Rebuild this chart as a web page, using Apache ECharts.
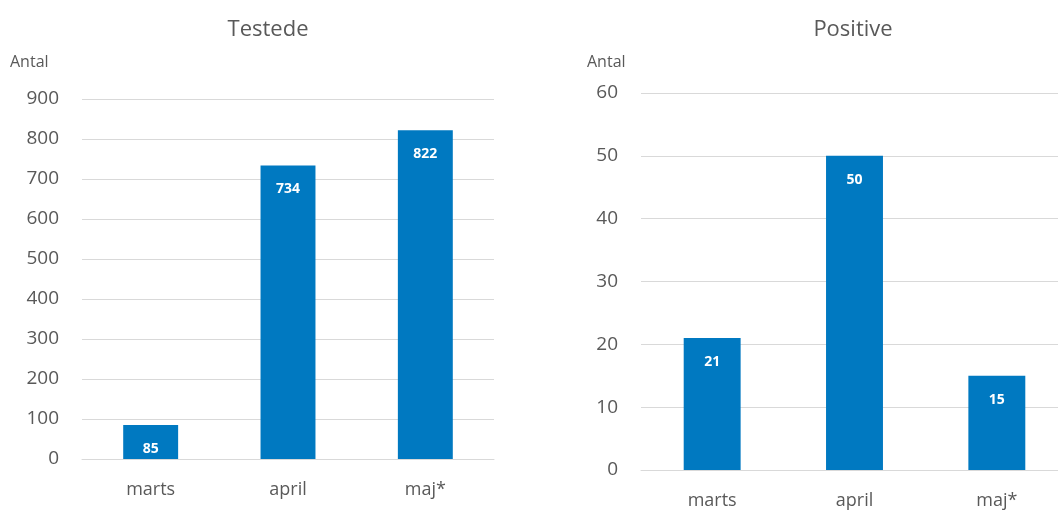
<!DOCTYPE html>
<html><head><meta charset="utf-8">
<script src="https://cdn.jsdelivr.net/npm/echarts@6/dist/echarts.min.js"></script>
<style>html,body{margin:0;padding:0;background:#fff}#c{width:1058px;height:510px}</style>
</head><body><div id="c"></div>
<script>
const categories = ['marts', 'april', 'maj*'];
const testede = [85, 734, 822];
const positive = [21, 50, 15];
const titles = ['Testede', 'Positive'];
const yName = 'Antal';

const font = '"Open Sans", "Noto Sans", sans-serif';
const grey = '#595959';
const blue = '#0079C1';

const chart = echarts.init(document.getElementById('c'), null, {renderer: 'canvas'});
function xAxis(i) {
  return {
    type: 'category', gridIndex: i, data: categories,
    axisTick: {show: false},
    axisLine: {lineStyle: {color: '#d9d9d9', width: 1}},
    axisLabel: {color: grey, fontSize: 18, fontFamily: font, margin: 22}
  };
}
function yAxis(i, max, interval) {
  return {
    type: 'value', gridIndex: i, min: 0, max: max, interval: interval,
    axisLine: {show: false}, axisTick: {show: false},
    splitLine: {lineStyle: {color: '#d9d9d9', width: 1}},
    axisLabel: {color: grey, fontSize: 19, fontFamily: font, margin: 23}
  };
}
function barSeries(i, data) {
  return {
    type: 'bar', xAxisIndex: i, yAxisIndex: i, data: data, barWidth: '40%',
    itemStyle: {color: blue},
    label: {show: true, position: 'insideTop', distance: 17, color: '#fff',
            fontWeight: 'bold', fontSize: 14, fontFamily: font},
    animation: false
  };
}
chart.setOption({
  animation: false,
  title: [
    {text: titles[0], left: 263, top: 14, textAlign: 'center',
     textStyle: {color: grey, fontSize: 22, fontWeight: 'normal', fontFamily: font}},
    {text: titles[1], left: 848, top: 14, textAlign: 'center',
     textStyle: {color: grey, fontSize: 22, fontWeight: 'normal', fontFamily: font}}
  ],
  graphic: [
    {type: 'text', left: 10, top: 54, style: {text: yName, fill: grey, fontSize: 16, fontFamily: font}},
    {type: 'text', left: 587, top: 54, style: {text: yName, fill: grey, fontSize: 16, fontFamily: font}}
  ],
  grid: [
    {left: 82, top: 99, width: 412, height: 360, outerBoundsMode: 'none'},
    {left: 641, top: 93, width: 427, height: 377, outerBoundsMode: 'none'}
  ],
  xAxis: [xAxis(0), xAxis(1)],
  yAxis: [yAxis(0, 900, 100), yAxis(1, 60, 10)],
  series: [barSeries(0, testede), barSeries(1, positive)]
});
</script></body></html>
